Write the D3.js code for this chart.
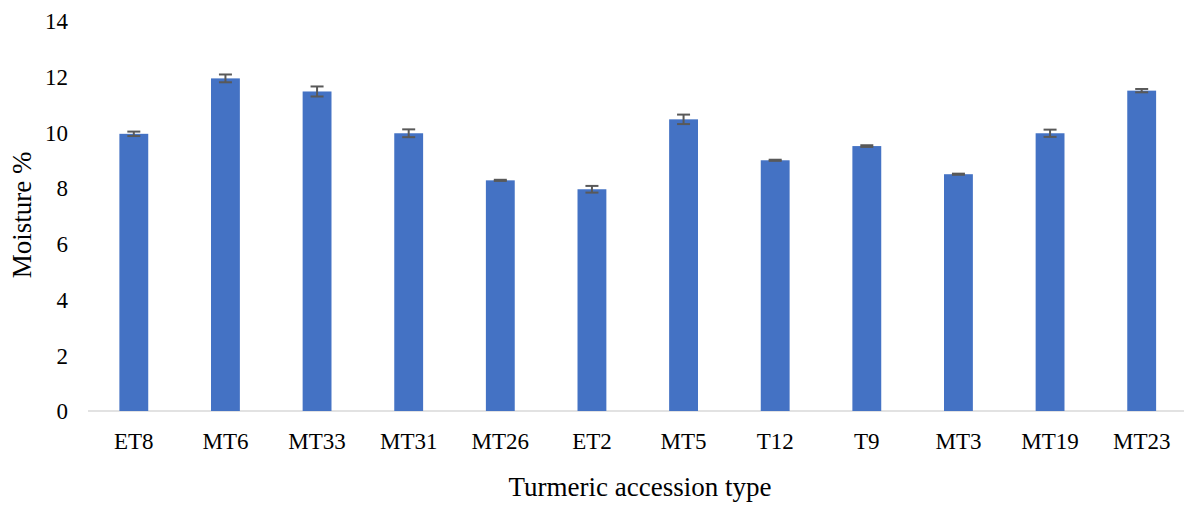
<!DOCTYPE html>
<html>
<head>
<meta charset="utf-8">
<script src="https://cdn.jsdelivr.net/npm/d3@7"></script>
<style>
  html, body { margin: 0; padding: 0; background: #fff; }
  svg { display: block; }
  svg text { font-family: "Liberation Serif", "Times New Roman", Times, "DejaVu Serif", serif; fill: #000; }
</style>
</head>
<body>
<svg id="chart" width="1184" height="506"></svg>
<script>
const categories = ["ET8","MT6","MT33","MT31","MT26","ET2","MT5","T12","T9","MT3","MT19","MT23"];
const moisture = [9.95, 11.94, 11.47, 9.97, 8.28, 7.96, 10.47, 9.0, 9.51, 8.50, 9.97, 11.50];
const errors = [0.08, 0.14, 0.18, 0.14, 0.02, 0.12, 0.17, 0.02, 0.03, 0.02, 0.13, 0.06];
const yTicks = [0, 2, 4, 6, 8, 10, 12, 14];
const yTitle = "Moisture %";
const xTitle = "Turmeric accession type";

const svg = d3.select("#chart");
const font = '"Liberation Serif", "Times New Roman", Times, "DejaVu Serif", serif';

const x = d3.scaleBand().domain(categories).range([88, 1187.5]).paddingInner(0.685).paddingOuter(0.3425);
const y = d3.scaleLinear().domain([0, 14]).range([411, 21]);

// axis line
svg.append("line")
  .attr("x1", 88).attr("x2", 1184)
  .attr("y1", y(0)).attr("y2", y(0))
  .attr("stroke", "#d9d9d9").attr("stroke-width", 1.5);

// bars
svg.selectAll("rect.bar").data(categories).enter().append("rect")
  .attr("class", "bar")
  .attr("x", d => x(d))
  .attr("width", x.bandwidth())
  .attr("y", (d, i) => y(moisture[i]))
  .attr("height", (d, i) => y(0) - y(moisture[i]))
  .attr("fill", "#4472C4");

// error bars
const eg = svg.append("g").attr("stroke", "#595959").attr("stroke-width", 2);
categories.forEach((c, i) => {
  const cx = x(c) + x.bandwidth() / 2;
  const y1 = y(moisture[i] + errors[i]);
  const y2 = y(moisture[i] - errors[i]);
  eg.append("line").attr("x1", cx).attr("x2", cx).attr("y1", y1).attr("y2", y2);
  eg.append("line").attr("x1", cx - 6.5).attr("x2", cx + 6.5).attr("y1", y1).attr("y2", y1);
  eg.append("line").attr("x1", cx - 6.5).attr("x2", cx + 6.5).attr("y1", y2).attr("y2", y2);
});

// y axis labels
const yAxis = d3.axisLeft(y).tickValues(yTicks).tickSize(0).tickPadding(0).tickFormat(d3.format("d"));
const ya = svg.append("g").attr("transform", "translate(68,0)").call(yAxis);
ya.attr("font-family", null).attr("font-size", null);
ya.select(".domain").remove();
ya.selectAll("text").style("font-family", font).style("font-size", "23px").attr("fill", "#000").attr("dy", "0.34em");

// x axis labels
const xAxis = d3.axisBottom(x).tickSize(0).tickPadding(0);
const xa = svg.append("g").attr("transform", "translate(0,449)").call(xAxis);
xa.attr("font-family", null).attr("font-size", null);
xa.select(".domain").remove();
xa.selectAll("text").style("font-family", font).style("font-size", "23px").attr("fill", "#000").attr("dy", "0");

// titles
svg.append("text")
  .attr("transform", "translate(31,215) rotate(-90)")
  .attr("text-anchor", "middle")
  .style("font-family", font).style("font-size", "27px")
  .text(yTitle);

svg.append("text")
  .attr("x", 640).attr("y", 496)
  .attr("text-anchor", "middle")
  .style("font-family", font).style("font-size", "27px")
  .text(xTitle);
</script>
</body>
</html>
